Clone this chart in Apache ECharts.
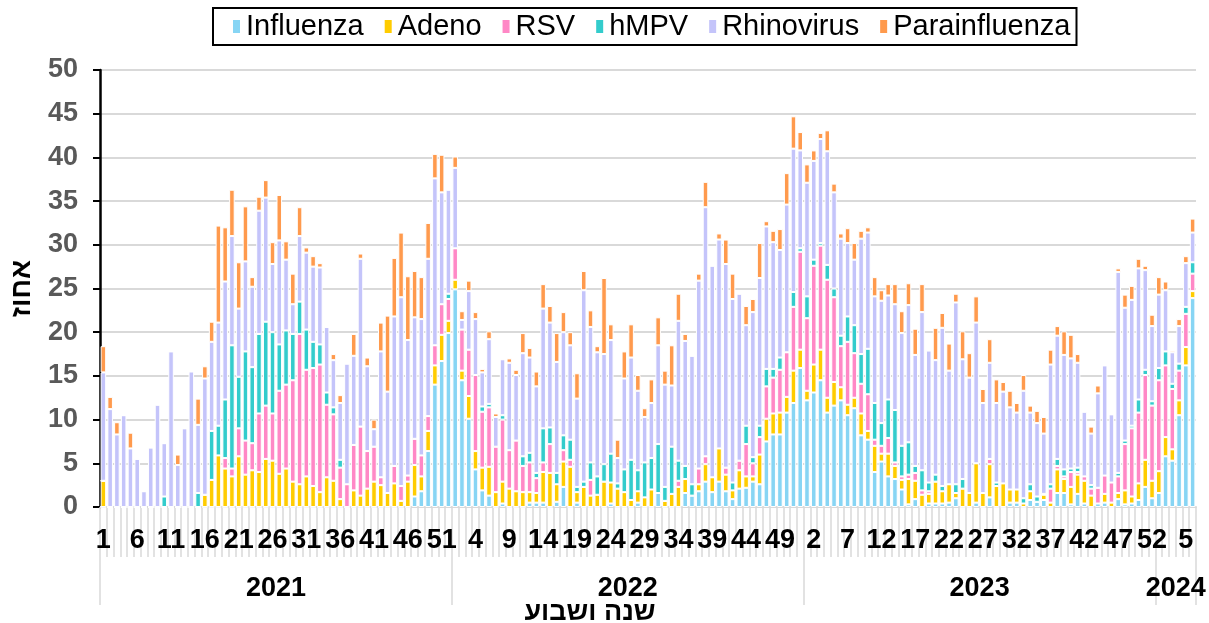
<!DOCTYPE html>
<html>
<head>
<meta charset="utf-8">
<script src="https://cdn.jsdelivr.net/npm/echarts@6/dist/echarts.min.js"></script>
<style>
  html, body { margin: 0; padding: 0; background: #fff; }
  #chart { width: 1209px; height: 623px; }
</style>
</head>
<body>
<div id="chart"></div>
<script>
// years and how many weeks each one has on the axis
const yearLabels = ["2021", "2022", "2023", "2024"];
const weeksPerYear = [52, 52, 52, 6];

// percent per week, one value per bar (2021 w1 ... 2024 w6)
const influenza = [
  0, 0, 0, 0, 0, 0, 0, 0, 0, 0, 0, 0, 0, 0, 0, 0, 0, 0, 0, 0,
  0, 0, 0, 0, 0, 0, 0, 0, 0, 0, 0, 0, 0, 0, 0, 0, 0, 0, 0, 0,
  0, 0, 0, 0, 0, 0, 1.2, 1.8, 6.4, 14.0, 16.7, 19.9, 24.9, 14.5, 10.1, 4.3, 1.9, 1.3, 0, 0.4,
  0, 0, 0, 0.5, 0.5, 0.5, 0, 0.6, 2.3, 0, 0.5, 0, 0, 0, 0, 0.4, 0, 0, 0, 0.5,
  0, 0, 1.6, 0, 0, 0, 1.6, 1.3, 1.8, 2.9, 1.7, 2.9, 1.8, 0.9, 2.1, 2.2, 2.9, 2.6, 7.5, 8.3,
  8.3, 10.8, 11.9, 15.9, 12.2, 13.1, 14.5, 10.8, 11.6, 12.2, 10.5, 11.3, 8.2, 7.7, 4.0, 5.2, 3.5, 3.2, 2.0, 0.3,
  0.9, 0, 0.4, 0.4, 0.4, 0.5, 1.0, 0, 0, 0.5, 0, 1.1, 0, 0, 0.5, 0.5, 0, 0.8, 0.6, 0.8,
  0, 1.6, 1.6, 0.3, 1.5, 0.4, 0, 0.4, 0.5, 0, 0.9, 0.3, 0.4, 0.8, 2.3, 1.0, 1.6, 5.8, 5.3, 10.5,
  16.2, 23.9
];
const adeno = [
  3.0, 0, 0, 0, 0, 0, 0, 0, 0, 0, 0, 0, 0, 0, 0, 1.4, 3.1, 5.9, 4.4, 3.5,
  5.8, 3.7, 4.2, 4.0, 5.5, 5.3, 3.8, 4.4, 2.9, 2.6, 3.5, 2.4, 1.7, 3.4, 3.0, 0.9, 0, 1.9, 1.3, 2.1,
  2.9, 2.5, 1.6, 2.7, 0.7, 2.9, 3.6, 1.7, 2.3, 2.2, 3.0, 1.4, 1.1, 1.1, 2.6, 2.1, 2.6, 3.3, 1.7, 2.5,
  2.1, 1.8, 1.7, 1.2, 1.1, 3.5, 3.9, 2.0, 2.9, 4.6, 1.2, 2.3, 1.3, 1.4, 2.9, 2.4, 2.1, 1.7, 0.8, 1.3,
  1.1, 2.0, 0, 0.7, 1.5, 2.3, 1.6, 0, 0.8, 2.0, 1.7, 3.8, 1.9, 1.0, 2.1, 1.3, 0.6, 3.4, 2.6, 2.4,
  2.5, 1.8, 3.7, 2.1, 1.1, 3.2, 3.5, 1.7, 2.7, 1.5, 1.2, 1.2, 2.5, 1.0, 3.0, 0.9, 2.6, 1.5, 1.1, 2.9,
  2.1, 1.4, 1.1, 2.5, 1.4, 2.1, 0.6, 2.1, 1.6, 4.5, 1.6, 3.8, 2.4, 2.7, 1.5, 1.5, 0.4, 1.0, 0, 0.6,
  0.5, 2.7, 1.6, 2.0, 2.2, 2.6, 1.3, 0, 1.0, 0.5, 0.7, 1.6, 0.8, 1.9, 3.1, 2.0, 2.5, 2.2, 1.3, 1.7,
  2.1, 0.8
];
const rsv = [
  0, 0, 0, 0, 0, 0, 0, 0, 0, 0, 0, 0, 0, 0, 0, 0, 0, 0, 1.2, 0.9,
  3.2, 3.9, 3.1, 6.7, 6.1, 5.4, 9.5, 9.6, 11.6, 17.2, 12.2, 13.5, 14.6, 8.3, 7.6, 3.6, 2.6, 5.2, 7.9, 4.3,
  4.0, 0.9, 0, 2.0, 1.7, 0.7, 3.0, 2.4, 1.7, 2.3, 3.5, 2.5, 3.6, 4.7, 5.3, 8.7, 6.4, 6.8, 5.2, 7.1,
  4.4, 5.8, 3.0, 3.4, 1.7, 1.1, 3.3, 0, 1.3, 0.8, 0, 0, 1.8, 0, 0, 0, 0, 0, 0, 0,
  0, 0, 0, 0, 0, 0.7, 0, 0, 1.8, 0.9, 0, 0, 0.8, 0, 1.1, 3.7, 1.5, 2.0, 3.7, 4.1,
  4.9, 5.1, 7.3, 11.2, 8.3, 11.3, 11.9, 13.5, 9.7, 4.7, 7.2, 5.1, 3.4, 4.2, 0.7, 0.9, 1.8, 0.4, 0.4, 0.5,
  0.9, 0.5, 0.3, 0, 0, 0, 0, 0, 0, 0, 0, 0.6, 0, 0, 0, 0, 0, 0, 0, 0.1,
  1.6, 0.4, 0.3, 1.7, 0.3, 0.5, 0.8, 1.8, 2.1, 2.3, 1.9, 5.3, 7.8, 8.1, 9.7, 8.6, 10.4, 8.2, 6.9, 3.4,
  3.8, 2.0
];
const hmpv = [
  0, 0, 0, 0, 0, 0, 0, 0, 0, 1.2, 0, 0, 0, 0, 1.6, 0, 5.6, 3.4, 6.7, 14.1,
  5.9, 10.2, 8.7, 9.1, 9.6, 9.3, 5.3, 6.2, 5.3, 3.7, 4.6, 3.0, 2.3, 1.4, 0.8, 0.9, 0, 0, 0, 0,
  0, 0, 0, 0, 0, 0, 0, 0, 0, 0, 0, 0.6, 0, 0, 0, 0, 0.6, 0.4, 0, 0.5,
  0, 0, 1.1, 1.1, 0.6, 3.9, 1.9, 1.3, 1.7, 2.3, 0.6, 0.6, 2.0, 2.1, 2.0, 3.3, 0.6, 2.6, 4.6, 2.4,
  4.0, 3.6, 5.6, 1.6, 5.4, 2.3, 1.5, 1.3, 0, 0, 0, 0, 0, 0.9, 0, 2.1, 0.7, 1.3, 2.0, 1.0,
  1.4, 0, 1.7, 0.4, 2.5, 0.7, 0.3, 1.7, 1.0, 1.2, 2.9, 3.2, 3.4, 5.2, 4.2, 2.6, 4.4, 6.0, 3.5, 3.7,
  0.8, 2.3, 1.0, 0.8, 0.6, 0, 1.0, 1.1, 0, 0, 0, 0, 0.4, 0, 0, 0, 0.6, 0.8, 0.6, 0,
  0.5, 0.8, 0.8, 0.4, 0.5, 0, 0.4, 0, 0, 0, 0.4, 0.4, 0.3, 1.5, 0.6, 0.5, 1.4, 1.6, 0.6, 0.8,
  0.8, 1.3
];
const rhinovirus = [
  12.4, 11.2, 8.3, 10.5, 6.7, 5.5, 1.8, 6.8, 11.7, 6.1, 17.8, 4.8, 9.0, 15.5, 7.8, 13.3, 10.2, 11.8, 13.5, 12.5,
  7.8, 10.3, 9.2, 14.1, 14.2, 7.8, 11.9, 8.1, 3.4, 7.5, 8.8, 8.6, 8.8, 7.5, 5.4, 6.5, 13.8, 10.2, 19.2, 9.7,
  2.0, 14.4, 11.6, 17.1, 21.6, 15.5, 13.9, 15.6, 18.0, 19.1, 12.8, 11.9, 9.2, 1.1, 6.7, 6.4, 3.9, 7.4, 3.4, 6.4,
  10.0, 7.5, 11.8, 10.9, 9.9, 13.7, 12.0, 12.7, 11.8, 10.8, 10.1, 21.9, 15.5, 14.2, 12.6, 13.0, 2.9, 10.4, 11.7, 9.1,
  5.2, 6.3, 11.3, 11.7, 7.0, 16.0, 14.3, 14.7, 21.5, 28.5, 24.2, 23.9, 23.3, 21.0, 19.1, 11.5, 16.6, 16.9, 16.3, 14.5,
  12.3, 16.9, 16.4, 11.2, 13.0, 11.3, 11.9, 13.0, 11.0, 11.1, 8.4, 7.5, 13.2, 13.3, 12.2, 14.0, 11.9, 12.1, 12.9, 15.7,
  12.7, 18.1, 15.1, 13.1, 18.1, 13.0, 20.8, 13.7, 13.2, 16.1, 10.3, 11.0, 9.1, 10.5, 9.4, 8.8, 12.3, 8.2, 8.4, 6.9,
  13.7, 14.1, 13.1, 12.6, 12.0, 7.4, 5.9, 10.8, 12.6, 7.8, 23.0, 15.2, 14.4, 15.0, 11.4, 8.6, 8.4, 7.0, 3.6, 4.3,
  5.0, 3.4
];
const parainfluenza = [
  3.0, 1.4, 1.4, 0, 1.8, 0, 0, 0, 0, 0, 0, 1.2, 0, 0, 3.0, 1.4, 2.3, 11.1, 6.2, 5.3,
  5.3, 6.3, 1.1, 1.6, 2.0, 2.5, 5.2, 2.1, 3.5, 3.3, 0.6, 1.2, 0.5, 0, 0.7, 0.9, 0, 2.5, 0.6, 1.0,
  1.1, 3.3, 8.7, 6.7, 7.4, 7.3, 5.3, 4.8, 4.1, 2.8, 4.3, 0, 1.3, 1.0, 1.2, 0.8, 0.4, 0.9, 0.4, 0,
  0.5, 0.6, 2.3, 1.1, 1.7, 2.8, 1.9, 3.3, 2.3, 1.5, 2.9, 2.2, 1.9, 0.7, 8.7, 1.8, 2.1, 3.1, 3.8, 1.8,
  1.0, 2.7, 3.2, 1.6, 4.6, 3.1, 0.8, 0, 0.8, 2.9, 0, 0.7, 2.8, 2.9, 0, 2.2, 1.5, 4.0, 0.6, 1.3,
  2.4, 3.6, 3.7, 2.1, 2.1, 1.2, 0.7, 2.4, 1.0, 0.6, 1.7, 1.9, 0.9, 0.6, 2.2, 1.2, 1.3, 2.3, 2.5, 2.5,
  3.0, 3.2, 0, 3.7, 1.7, 3.1, 1.0, 3.2, 2.8, 3.0, 1.6, 2.7, 2.7, 1.1, 1.9, 1.1, 1.8, 0.8, 1.4, 1.9,
  1.7, 1.1, 2.7, 2.7, 1.0, 0, 0.8, 0.9, 0, 0, 0.4, 1.5, 1.6, 1.1, 0.5, 1.3, 2.0, 1.0, 0.2, 0.8,
  0.8, 1.6
];

const seriesNames = ["Influenza", "Adeno", "RSV", "hMPV", "Rhinovirus", "Parainfluenza"];
const seriesColors = ["#87d5f4", "#ffcc00", "#ff88c6", "#33cccc", "#c4c4fa", "#ff9a4d"];
const seriesData = [influenza, adeno, rsv, hmpv, rhinovirus, parainfluenza];

// build the week / year category lists
const weekCats = [];
const yearCats = [];
const yearStarts = [];
const yearMids = [];
weeksPerYear.forEach((n, y) => {
  yearStarts.push(weekCats.length);
  yearMids.push(weekCats.length + Math.floor((n - 1) / 2));
  for (let w = 1; w <= n; w++) {
    weekCats.push(String(w));
    yearCats.push(yearLabels[y]);
  }
});

const FONT = "Liberation Sans";
const chart = echarts.init(document.getElementById("chart"));

const option = {
  animation: false,
  textStyle: { fontFamily: FONT },
  legend: {
    top: 8,
    left: 213,
    data: seriesNames,
    icon: "rect",
    itemWidth: 9,
    itemHeight: 15,
    itemGap: 19,
    padding: [4, 6, 4, 18],
    borderColor: "#000",
    borderWidth: 2,
    textStyle: { fontFamily: FONT, fontSize: 29, color: "#000" }
  },
  grid: { left: 100, right: 13, top: 70, bottom: 116 },
  xAxis: [
    {
      type: "category",
      data: weekCats,
      axisLine: { lineStyle: { color: "#d9d9d9", width: 2 } },
      axisTick: { show: true, interval: 0, length: 50, lineStyle: { color: "#d9d9d9", width: 1.5 } },
      axisLabel: { interval: 4, margin: 20, color: "#000", fontFamily: FONT, fontWeight: "bold", fontSize: 27 }
    },
    {
      type: "category",
      position: "bottom",
      data: yearCats,
      axisLine: { show: false },
      axisTick: {
        show: true,
        interval: (idx) => yearStarts.indexOf(idx) >= 0,
        length: 98,
        lineStyle: { color: "#d9d9d9", width: 1.5 }
      },
      axisLabel: {
        interval: (idx) => yearMids.indexOf(idx) >= 0,
        margin: 68,
        padding: [0, 0, 0, 7],
        color: "#000",
        fontFamily: FONT,
        fontWeight: "bold",
        fontSize: 27
      }
    }
  ],
  yAxis: {
    type: "value",
    min: 0,
    max: 50,
    interval: 5,
    name: "אחוז",
    nameLocation: "middle",
    nameRotate: 90,
    nameGap: 64,
    nameTextStyle: { fontFamily: FONT, fontWeight: "bold", fontSize: 28, color: "#000" },
    axisLine: { show: true, lineStyle: { color: "#000", width: 2.5 } },
    axisTick: { show: true, length: 7, lineStyle: { color: "#000", width: 2 } },
    axisLabel: { margin: 22, color: "#595959", fontFamily: FONT, fontWeight: "bold", fontSize: 27 },
    splitLine: { lineStyle: { color: "#d9d9d9", width: 2 } }
  },
  graphic: [
    {
      type: "text",
      x: 590,
      y: 613,
      style: {
        text: "שנה ושבוע",
        textAlign: "center",
        textVerticalAlign: "middle",
        font: "bold 27px " + FONT,
        fill: "#000"
      }
    }
  ],
  series: seriesNames.map((name, k) => ({
    name: name,
    type: "bar",
    stack: "total",
    xAxisIndex: 0,
    data: seriesData[k],
    barCategoryGap: "18%",
    itemStyle: { color: seriesColors[k], borderColor: "#fff", borderWidth: 1 }
  }))
};

chart.setOption(option);
</script>
</body>
</html>
